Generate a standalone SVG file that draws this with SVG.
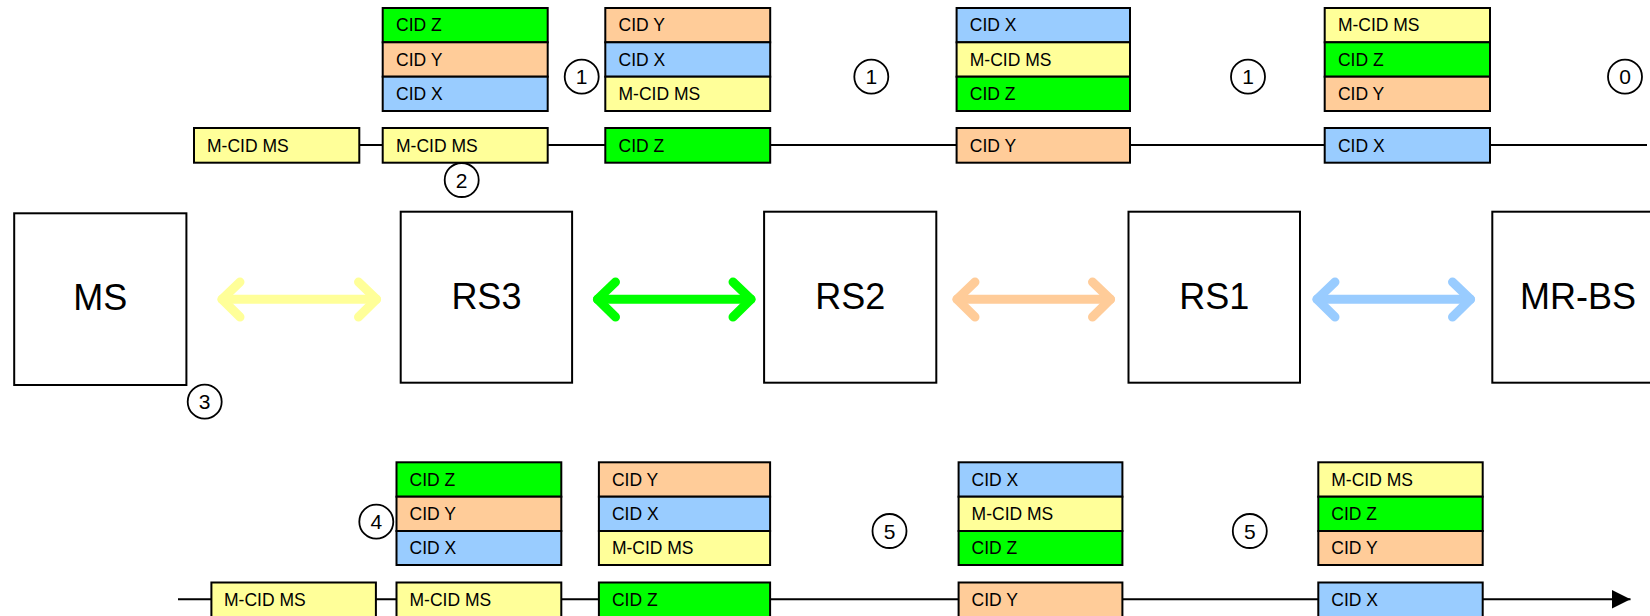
<svg xmlns="http://www.w3.org/2000/svg" width="1650" height="616" viewBox="0 0 1650 616">
<defs>
<style>
.bx{stroke:#000;stroke-width:2}
.g{fill:#00FF00}.o{fill:#FFCC99}.b{fill:#99CCFF}.y{fill:#FFFF99}
.t{font-family:"Liberation Sans",Arial,sans-serif;font-size:17.5px;fill:#000}
.node{fill:#fff;stroke:#000;stroke-width:2}
.nl{font-family:"Liberation Sans",Arial,sans-serif;font-size:36px;fill:#000;text-anchor:middle}
.cc{fill:#fff;stroke:#000;stroke-width:1.8}
.cn{font-family:"Liberation Sans",Arial,sans-serif;font-size:21px;fill:#000;text-anchor:middle}
.ln{stroke:#000;stroke-width:2;fill:none}
.ar{fill:none;stroke-width:9;stroke-linecap:round;stroke-linejoin:round}
</style>
<marker id="ah" viewBox="0 0 10 10" refX="10" refY="5" markerWidth="9.5" markerHeight="10.5" markerUnits="strokeWidth" orient="auto">
<path d="M0,0 L10,5 L0,10 Z" fill="#000"/>
</marker>
</defs>
<rect width="1650" height="616" fill="#fff"/>

<g id="connectors">
<line class="ln" x1="194" y1="145" x2="1647" y2="145"/>
<line class="ln" x1="178" y1="599.3" x2="1630.5" y2="599.3" marker-end="url(#ah)"/>
<g id="link-ms-rs3" class="ar" stroke="#FFFF99">
<line x1="222" y1="299.3" x2="376.5" y2="299.3"/>
<polyline points="240,282 222,299.3 240,317"/>
<polyline points="358.5,282 376.5,299.3 358.5,317"/>
</g>
<g id="link-rs3-rs2" class="ar" stroke="#00FF00">
<line x1="597.5" y1="299.3" x2="751" y2="299.3"/>
<polyline points="615.5,282 597.5,299.3 615.5,317"/>
<polyline points="733,282 751,299.3 733,317"/>
</g>
<g id="link-rs2-rs1" class="ar" stroke="#FFCC99">
<line x1="957" y1="299.3" x2="1110.5" y2="299.3"/>
<polyline points="975,282 957,299.3 975,317"/>
<polyline points="1092.5,282 1110.5,299.3 1092.5,317"/>
</g>
<g id="link-rs1-mrbs" class="ar" stroke="#99CCFF">
<line x1="1317" y1="299.3" x2="1470.5" y2="299.3"/>
<polyline points="1335,282 1317,299.3 1335,317"/>
<polyline points="1452.5,282 1470.5,299.3 1452.5,317"/>
</g>
</g>

<g id="node-ms">
<rect class="node" x="14.2" y="213.3" width="172.2" height="171.7"/>
<text class="nl" x="100.3" y="310">MS</text>
</g>
<g id="node-rs3">
<rect class="node" x="400.7" y="211.7" width="171.4" height="171"/>
<text class="nl" x="486.4" y="308.5">RS3</text>
</g>
<g id="node-rs2">
<rect class="node" x="764.1" y="211.7" width="172.2" height="171"/>
<text class="nl" x="850.2" y="308.5">RS2</text>
</g>
<g id="node-rs1">
<rect class="node" x="1128.5" y="211.7" width="171.5" height="171"/>
<text class="nl" x="1214.2" y="308.5">RS1</text>
</g>
<g id="node-mrbs">
<rect class="node" x="1492.3" y="211.7" width="172" height="171"/>
<text class="nl" x="1578" y="308.5">MR-BS</text>
</g>

<g id="top-stack-1">
<rect class="bx g" x="382.7" y="8" width="165" height="34.3"/><text class="t" x="396" y="31.3">CID Z</text>
<rect class="bx o" x="382.7" y="42.3" width="165" height="34.4"/><text class="t" x="396" y="65.7">CID Y</text>
<rect class="bx b" x="382.7" y="76.7" width="165" height="34.3"/><text class="t" x="396" y="100">CID X</text>
</g>
<g id="top-stack-2">
<rect class="bx o" x="605.3" y="8" width="164.9" height="34.3"/><text class="t" x="618.5" y="31.3">CID Y</text>
<rect class="bx b" x="605.3" y="42.3" width="164.9" height="34.4"/><text class="t" x="618.5" y="65.7">CID X</text>
<rect class="bx y" x="605.3" y="76.7" width="164.9" height="34.3"/><text class="t" x="618.5" y="100">M-CID MS</text>
</g>
<g id="top-stack-3">
<rect class="bx b" x="956.6" y="8" width="173.4" height="34.3"/><text class="t" x="969.8" y="31.3">CID X</text>
<rect class="bx y" x="956.6" y="42.3" width="173.4" height="34.4"/><text class="t" x="969.8" y="65.7">M-CID MS</text>
<rect class="bx g" x="956.6" y="76.7" width="173.4" height="34.3"/><text class="t" x="969.8" y="100">CID Z</text>
</g>
<g id="top-stack-4">
<rect class="bx y" x="1324.7" y="8" width="165.3" height="34.3"/><text class="t" x="1337.9" y="31.3">M-CID MS</text>
<rect class="bx g" x="1324.7" y="42.3" width="165.3" height="34.4"/><text class="t" x="1337.9" y="65.7">CID Z</text>
<rect class="bx o" x="1324.7" y="76.7" width="165.3" height="34.3"/><text class="t" x="1337.9" y="100">CID Y</text>
</g>

<g id="top-pkt-1"><rect class="bx y" x="194" y="128" width="165.3" height="34.7"/><text class="t" x="207" y="151.5">M-CID MS</text></g>
<g id="top-pkt-2"><rect class="bx y" x="382.7" y="128" width="165" height="34.7"/><text class="t" x="396" y="151.5">M-CID MS</text></g>
<g id="top-pkt-3"><rect class="bx g" x="605.3" y="128" width="164.9" height="34.7"/><text class="t" x="618.5" y="151.5">CID Z</text></g>
<g id="top-pkt-4"><rect class="bx o" x="956.6" y="128" width="173.4" height="34.7"/><text class="t" x="969.8" y="151.5">CID Y</text></g>
<g id="top-pkt-5"><rect class="bx b" x="1324.7" y="128" width="165.3" height="34.7"/><text class="t" x="1337.9" y="151.5">CID X</text></g>

<g id="bot-stack-1">
<rect class="bx g" x="396.5" y="462.3" width="164.8" height="34.4"/><text class="t" x="409.5" y="485.5">CID Z</text>
<rect class="bx o" x="396.5" y="496.7" width="164.8" height="34.3"/><text class="t" x="409.5" y="519.8">CID Y</text>
<rect class="bx b" x="396.5" y="531" width="164.8" height="34"/><text class="t" x="409.5" y="554">CID X</text>
</g>
<g id="bot-stack-2">
<rect class="bx o" x="598.9" y="462.3" width="171.2" height="34.4"/><text class="t" x="611.9" y="485.5">CID Y</text>
<rect class="bx b" x="598.9" y="496.7" width="171.2" height="34.3"/><text class="t" x="611.9" y="519.8">CID X</text>
<rect class="bx y" x="598.9" y="531" width="171.2" height="34"/><text class="t" x="611.9" y="554">M-CID MS</text>
</g>
<g id="bot-stack-3">
<rect class="bx b" x="958.6" y="462.3" width="163.8" height="34.4"/><text class="t" x="971.6" y="485.5">CID X</text>
<rect class="bx y" x="958.6" y="496.7" width="163.8" height="34.3"/><text class="t" x="971.6" y="519.8">M-CID MS</text>
<rect class="bx g" x="958.6" y="531" width="163.8" height="34"/><text class="t" x="971.6" y="554">CID Z</text>
</g>
<g id="bot-stack-4">
<rect class="bx y" x="1318.3" y="462.3" width="164.4" height="34.4"/><text class="t" x="1331.3" y="485.5">M-CID MS</text>
<rect class="bx g" x="1318.3" y="496.7" width="164.4" height="34.3"/><text class="t" x="1331.3" y="519.8">CID Z</text>
<rect class="bx o" x="1318.3" y="531" width="164.4" height="34"/><text class="t" x="1331.3" y="554">CID Y</text>
</g>

<g id="bot-pkt-1"><rect class="bx y" x="211.4" y="582.5" width="164.5" height="34.5"/><text class="t" x="224" y="605.5">M-CID MS</text></g>
<g id="bot-pkt-2"><rect class="bx y" x="396.5" y="582.5" width="164.8" height="34.5"/><text class="t" x="409.5" y="605.5">M-CID MS</text></g>
<g id="bot-pkt-3"><rect class="bx g" x="598.9" y="582.5" width="171.2" height="34.5"/><text class="t" x="611.9" y="605.5">CID Z</text></g>
<g id="bot-pkt-4"><rect class="bx o" x="958.6" y="582.5" width="163.8" height="34.5"/><text class="t" x="971.6" y="605.5">CID Y</text></g>
<g id="bot-pkt-5"><rect class="bx b" x="1318.3" y="582.5" width="164.4" height="34.5"/><text class="t" x="1331.3" y="605.5">CID X</text></g>

<g id="step-1a"><circle class="cc" cx="581.7" cy="76.7" r="17"/><text class="cn" x="581.7" y="84.2">1</text></g>
<g id="step-1b"><circle class="cc" cx="871.3" cy="76.7" r="17"/><text class="cn" x="871.3" y="84.2">1</text></g>
<g id="step-1c"><circle class="cc" cx="1248" cy="76.7" r="17"/><text class="cn" x="1248" y="84.2">1</text></g>
<g id="step-0"><circle class="cc" cx="1625" cy="76.7" r="17"/><text class="cn" x="1625" y="84.2">0</text></g>
<g id="step-2"><circle class="cc" cx="461.7" cy="180" r="17"/><text class="cn" x="461.7" y="187.5">2</text></g>
<g id="step-3"><circle class="cc" cx="204.7" cy="401.7" r="17"/><text class="cn" x="204.7" y="409.2">3</text></g>
<g id="step-4"><circle class="cc" cx="376.3" cy="521.7" r="17"/><text class="cn" x="376.3" y="529.2">4</text></g>
<g id="step-5a"><circle class="cc" cx="889.5" cy="531" r="17"/><text class="cn" x="889.5" y="538.5">5</text></g>
<g id="step-5b"><circle class="cc" cx="1249.8" cy="531" r="17"/><text class="cn" x="1249.8" y="538.5">5</text></g>
</svg>
